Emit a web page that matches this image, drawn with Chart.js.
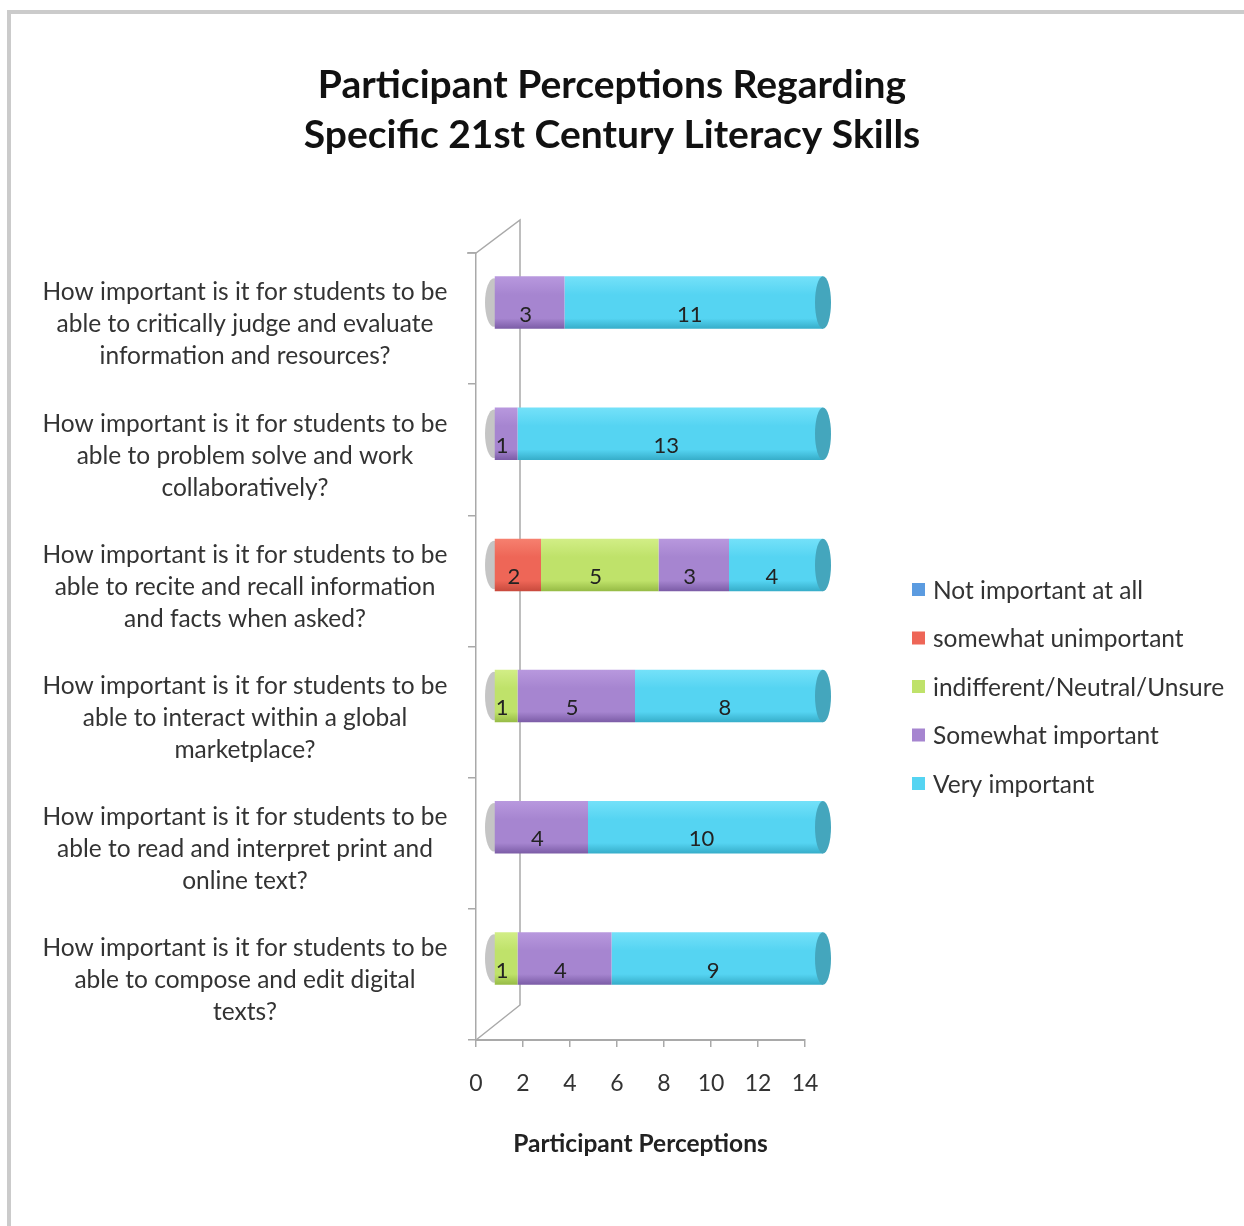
<!DOCTYPE html>
<html>
<head>
<meta charset="utf-8">
<title>Participant Perceptions</title>
<script src="https://cdn.jsdelivr.net/npm/chart.js@4"></script>
<style>
  html, body { margin: 0; padding: 0; background: #fff; }
  #wrap { position: relative; width: 1244px; height: 1226px; overflow: hidden; }
  #frame {
    position: absolute; left: 7px; top: 10px; right: -10px; bottom: -10px;
    border-left: 4px solid #cbcbcb; border-top: 4px solid #cbcbcb;
  }
  canvas { position: absolute; left: 0; top: 0; }
</style>
</head>
<body>
<div id="wrap">
  <div id="frame"></div>
  <canvas id="perceptionChart" width="1244" height="1226"></canvas>
</div>
<script>
// Questions (one array per label, split into lines)
const categories = [
  ["How important is it for students to be", "able to critically judge and evaluate", "information and resources?"],
  ["How important is it for students to be", "able to problem solve and work", "collaboratively?"],
  ["How important is it for students to be", "able to recite and recall information", "and facts when asked?"],
  ["How important is it for students to be", "able to interact within a global", "marketplace?"],
  ["How important is it for students to be", "able to read and interpret print and", "online text?"],
  ["How important is it for students to be", "able to compose and edit digital", "texts?"],
];

const seriesLabels = [
  "Not important at all",
  "somewhat unimportant",
  "indifferent/Neutral/Unsure",
  "Somewhat important",
  "Very important",
];

// Responses per question
const notImportant = [0, 0, 0, 0, 0, 0];
const somewhatUnimportant = [0, 0, 2, 0, 0, 0];
const indifferent = [0, 0, 5, 1, 0, 1];
const somewhatImportant = [3, 1, 3, 5, 4, 4];
const veryImportant = [11, 13, 4, 8, 10, 9];

const xMin = 0;
const xMax = 14;
const xStep = 2;

// cylinder shading: top, middle, bottom, end cap
const seriesShades = [
  ["#79b0ea", "#5b9be0", "#3d7cc0", "#3f78b4"], // Blue
  ["#f6806f", "#ee6657", "#c84a3d", "#c04a3f"], // Red
  ["#d2ee86", "#bfe26a", "#96bb45", "#93b54a"], // Green
  ["#b898de", "#a685d0", "#7b5ca6", "#7d62a5"], // Purple
  ["#74e1f9", "#55d4f2", "#36adc9", "#44a6bd"], // Cyan
];

const FONT = "Lato, 'Open Sans', sans-serif";
const labelSize = 24.5;
const catPct = 0.4;
const depthX = 18;
const depthY = -16;

// measure widest label line so the wrapped labels centre near x=245
const measureCtx = document.createElement("canvas").getContext("2d");
measureCtx.font = labelSize + "px " + FONT;
const widestLine = Math.max(
  ...categories.flat().map((l) => measureCtx.measureText(l).width)
);
const yLabelPadding = Math.max(6, 476 - 8 - 245 - widestLine / 2);

function cylinderFill(shade) {
  return function (c) {
    const chart = c.chart;
    const y = chart.scales && chart.scales.y;
    if (!y || c.dataIndex === undefined || !isFinite(y.top)) return shade[1];
    const band = (y.bottom - y.top) / categories.length;
    const cy = y.getPixelForValue(c.dataIndex);
    const h = (band * catPct) / 2;
    if (!isFinite(cy)) return shade[1];
    const g = chart.ctx.createLinearGradient(0, cy - h, 0, cy + h);
    g.addColorStop(0, shade[0]);
    g.addColorStop(0.35, shade[1]);
    g.addColorStop(0.8, shade[1]);
    g.addColorStop(1, shade[2]);
    return g;
  };
}

const seriesData = [
  notImportant,
  somewhatUnimportant,
  indifferent,
  somewhatImportant,
  veryImportant,
];

const datasets = seriesData.map((data, i) => ({
  label: seriesLabels[i],
  data: data,
  backgroundColor: cylinderFill(seriesShades[i]),
  borderWidth: 0,
  categoryPercentage: catPct,
  barPercentage: 1,
  clip: false,
}));

// 3D walls, cylinder caps, values and legend
const cylinderPlugin = {
  id: "cylinders",
  beforeDatasetsDraw(chart) {
    const { ctx, chartArea: a } = chart;
    ctx.save();
    ctx.strokeStyle = "#a9a9a9";
    ctx.lineWidth = 1.5;
    ctx.beginPath();
    ctx.moveTo(a.left - 9, a.top);
    ctx.lineTo(a.left, a.top);
    ctx.lineTo(a.left + 44, a.top - 33);
    ctx.lineTo(a.left + 44, a.bottom - 35);
    ctx.lineTo(a.left, a.bottom);
    ctx.stroke();
    ctx.restore();

    // grey shadow of the left end of every cylinder
    const first = chart.getDatasetMeta(0).data;
    ctx.save();
    ctx.fillStyle = "rgba(140,140,140,0.5)";
    first.forEach((bar) => {
      ctx.beginPath();
      ctx.ellipse(bar.base + depthX, bar.y + depthY, 9, bar.height / 2 - 2, 0, 0, Math.PI * 2);
      ctx.fill();
    });
    ctx.restore();

    ctx.save();
    ctx.translate(depthX, depthY);
  },
  afterDatasetsDraw(chart) {
    const ctx = chart.ctx;
    ctx.restore();

    // right end caps
    categories.forEach((_, i) => {
      let last = -1;
      seriesData.forEach((s, d) => {
        if (s[i] > 0) last = d;
      });
      if (last < 0) return;
      const bar = chart.getDatasetMeta(last).data[i];
      ctx.save();
      ctx.fillStyle = seriesShades[last][3];
      ctx.beginPath();
      ctx.ellipse(bar.x + depthX, bar.y + depthY, 8, bar.height / 2, 0, 0, Math.PI * 2);
      ctx.fill();
      ctx.restore();
    });

    // value labels
    ctx.save();
    ctx.fillStyle = "#222";
    ctx.font = "22px " + FONT;
    ctx.textAlign = "center";
    ctx.textBaseline = "middle";
    seriesData.forEach((s, d) => {
      const meta = chart.getDatasetMeta(d);
      s.forEach((v, i) => {
        if (v > 0) {
          const p = meta.data[i].getCenterPoint();
          ctx.fillText(String(v), p.x + depthX - 4, p.y + depthY + 12);
        }
      });
    });
    ctx.restore();
  },
  afterDraw(chart) {
    const { ctx, chartArea: a } = chart;
    const x = a.right + 107;
    const y0 = 591;
    ctx.save();
    ctx.font = labelSize + "px " + FONT;
    ctx.textBaseline = "middle";
    ctx.textAlign = "left";
    seriesLabels.forEach((label, i) => {
      const y = y0 + i * 48.5;
      ctx.fillStyle = seriesShades[i][1];
      ctx.fillRect(x, y - 8, 13, 13);
      ctx.fillStyle = "#333";
      ctx.fillText(label, x + 21, y);
    });
    ctx.restore();
  },
};

new Chart(document.getElementById("perceptionChart"), {
  type: "bar",
  data: {
    labels: categories,
    datasets: datasets,
  },
  plugins: [cylinderPlugin],
  options: {
    indexAxis: "y",
    responsive: false,
    animation: false,
    layout: {
      padding: { left: 0, right: 20, top: 0, bottom: 67 },
    },
    plugins: {
      legend: { display: false },
      tooltip: { enabled: false },
      title: {
        display: true,
        text: ["Participant Perceptions Regarding", "Specific 21st Century Literacy Skills"],
        color: "#111",
        font: { family: FONT, size: 39, weight: "bold", lineHeight: 50 / 39 },
        padding: { top: 60, bottom: 93 },
      },
    },
    scales: {
      x: {
        stacked: true,
        min: xMin,
        max: xMax,
        ticks: {
          stepSize: xStep,
          color: "#333",
          font: { family: FONT, size: 23 },
          padding: 23,
        },
        grid: {
          drawOnChartArea: false,
          color: "#a9a9a9",
          lineWidth: 1.5,
          tickLength: 7,
        },
        border: { color: "#a9a9a9", width: 2 },
        title: {
          display: true,
          text: "Participant Perceptions",
          color: "#222",
          font: { family: FONT, size: 24.5, weight: "bold" },
          padding: { top: 9, bottom: 0 },
        },
      },
      y: {
        stacked: true,
        ticks: {
          crossAlign: "center",
          padding: yLabelPadding,
          labelOffset: 6,
          color: "#333",
          font: { family: FONT, size: labelSize, lineHeight: 32 / labelSize },
        },
        grid: {
          drawOnChartArea: false,
          color: "#a9a9a9",
          lineWidth: 1.5,
          tickLength: 8,
        },
        border: { color: "#a9a9a9", width: 1.5 },
        afterFit: function (scale) {
          scale.width = 476;
        },
      },
      yRight: {
        type: "category",
        position: "right",
        ticks: { display: false },
        grid: { display: false },
        border: { display: false },
        afterFit: function (scale) {
          scale.width = 419;
        },
      },
    },
  },
});
</script>
</body>
</html>
